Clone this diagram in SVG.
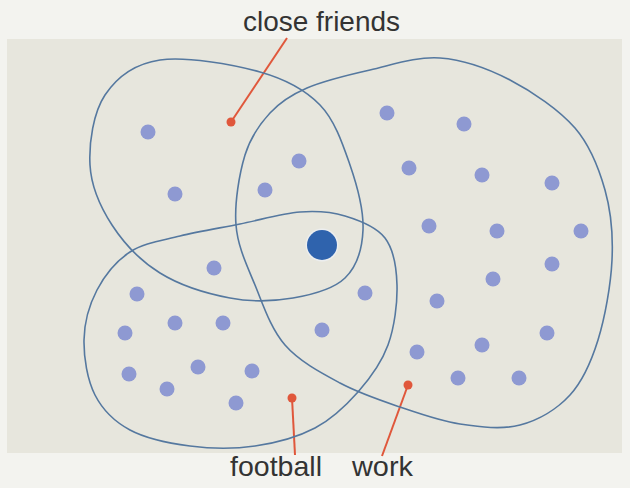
<svg xmlns="http://www.w3.org/2000/svg" width="630" height="488" viewBox="0 0 630 488">
<defs>
<style>
.blob{fill:none;stroke:#55789f;stroke-width:1.6}
.dot{fill:#8e99d2}
.lead{stroke:#e0573b;stroke-width:2;fill:none}
.red{fill:#e0573b}
.lbl{font-family:"Liberation Sans",Arial,sans-serif;font-size:28px;fill:#333333}
</style>
</defs>
<rect x="0" y="0" width="630" height="488" fill="#f3f3ef"/>
<rect x="7" y="39" width="615" height="414" fill="#e7e6dd"/>

<g id="connectors">
<path class="lead" d="M287,38 L231,122"/>
<path class="lead" d="M292,398 L295,455"/>
<path class="lead" d="M408,385 L382,456"/>
</g>

<g id="close-friends">
<path class="blob" d="M160,60 C185.8,56.2 233.3,64.5 260,72 C286.7,79.5 305,89.5 320,105 C335,120.5 342.8,144.2 350,165 C357.2,185.8 363.8,211.2 363,230 C362.2,248.8 356.7,266.7 345,278 C333.3,289.3 312.2,294.7 293,298 C273.8,301.3 252.2,302.2 230,298 C207.8,293.8 179.7,285.2 160,273 C140.3,260.8 123.7,243 112,225 C100.3,207 91.2,186.7 90,165 C88.8,143.3 93.3,112.5 105,95 C116.7,77.5 134.2,63.8 160,60 Z"/>
<circle class="red" cx="231" cy="122" r="4.5"/>
<text class="lbl" x="243" y="31" textLength="157" lengthAdjust="spacingAndGlyphs">close friends</text>
</g>

<g id="work">
<path class="blob" d="M307,88 C323.7,80.8 347.8,75 370,70 C392.2,65 416.7,56.3 440,58 C463.3,59.7 487.5,68.3 510,80 C532.5,91.7 559.2,109.7 575,128 C590.8,146.3 598.8,168 605,190 C611.2,212 613.2,235 612,260 C610.8,285 605,317.5 598,340 C591,362.5 583,380.8 570,395 C557,409.2 538.3,420.2 520,425 C501.7,429.8 480,427 460,424 C440,421 420,413.8 400,407 C380,400.2 359.2,393.3 340,383 C320.8,372.7 299.2,361.3 285,345 C270.8,328.7 263.2,305 255,285 C246.8,265 237.7,246.7 236,225 C234.3,203.3 239.3,173.7 245,155 C250.7,136.3 259.7,124.2 270,113 C280.3,101.8 290.3,95.2 307,88 Z"/>
<circle class="red" cx="408" cy="385" r="4.5"/>
<text class="lbl" x="352" y="476" textLength="61" lengthAdjust="spacingAndGlyphs">work</text>
</g>

<g id="football">
<path class="blob" d="M130,252 C143.8,243 161.7,240.7 180,236 C198.3,231.3 220,228 240,224 C260,220 282.5,213.3 300,212 C317.5,210.7 330.8,211.7 345,216 C359.2,220.3 376.3,226.5 385,238 C393.7,249.5 396.5,267.2 397,285 C397.5,302.8 394.5,327.2 388,345 C381.5,362.8 370.2,378.2 358,392 C345.8,405.8 332.2,419 315,428 C297.8,437 275.8,443 255,446 C234.2,449 210.8,448.7 190,446 C169.2,443.3 145.8,438.5 130,430 C114.2,421.5 102.7,410 95,395 C87.3,380 83.7,357.5 84,340 C84.3,322.5 89.3,304.7 97,290 C104.7,275.3 116.2,261 130,252 Z"/>
<circle class="red" cx="292" cy="398" r="4.5"/>
<text class="lbl" x="230" y="476" textLength="92" lengthAdjust="spacingAndGlyphs">football</text>
</g>

<g id="people">
<circle class="dot" cx="148" cy="132" r="7.5"/>
<circle class="dot" cx="175" cy="194" r="7.5"/>
<circle class="dot" cx="265" cy="190" r="7.5"/>
<circle class="dot" cx="299" cy="161" r="7.5"/>
<circle class="dot" cx="214" cy="268" r="7.5"/>
<circle class="dot" cx="387" cy="113" r="7.5"/>
<circle class="dot" cx="464" cy="124" r="7.5"/>
<circle class="dot" cx="409" cy="168" r="7.5"/>
<circle class="dot" cx="482" cy="175" r="7.5"/>
<circle class="dot" cx="552" cy="183" r="7.5"/>
<circle class="dot" cx="429" cy="226" r="7.5"/>
<circle class="dot" cx="497" cy="231" r="7.5"/>
<circle class="dot" cx="581" cy="231" r="7.5"/>
<circle class="dot" cx="552" cy="264" r="7.5"/>
<circle class="dot" cx="493" cy="279" r="7.5"/>
<circle class="dot" cx="365" cy="293" r="7.5"/>
<circle class="dot" cx="437" cy="301" r="7.5"/>
<circle class="dot" cx="137" cy="294" r="7.5"/>
<circle class="dot" cx="175" cy="323" r="7.5"/>
<circle class="dot" cx="223" cy="323" r="7.5"/>
<circle class="dot" cx="125" cy="333" r="7.5"/>
<circle class="dot" cx="322" cy="330" r="7.5"/>
<circle class="dot" cx="129" cy="374" r="7.5"/>
<circle class="dot" cx="198" cy="367" r="7.5"/>
<circle class="dot" cx="252" cy="371" r="7.5"/>
<circle class="dot" cx="167" cy="389" r="7.5"/>
<circle class="dot" cx="236" cy="403" r="7.5"/>
<circle class="dot" cx="547" cy="333" r="7.5"/>
<circle class="dot" cx="482" cy="345" r="7.5"/>
<circle class="dot" cx="417" cy="352" r="7.5"/>
<circle class="dot" cx="458" cy="378" r="7.5"/>
<circle class="dot" cx="519" cy="378" r="7.5"/>
</g>

<g id="me">
<circle cx="322" cy="245" r="16.5" fill="#eef1f6" opacity="0.7"/>
<circle cx="322" cy="245" r="15" fill="#2f63ad"/>
</g>
</svg>
